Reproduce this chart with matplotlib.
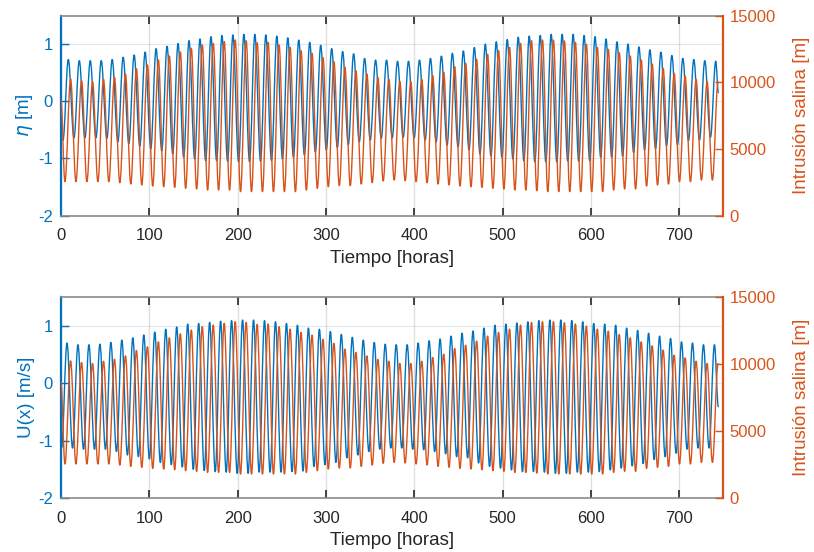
import numpy as np
import matplotlib
matplotlib.use("Agg")
import matplotlib.pyplot as plt
from matplotlib.path import Path
from matplotlib.patches import PathPatch

plt.rcParams['font.family'] = ['Liberation Sans', 'DejaVu Sans']
plt.rcParams['mathtext.fontset'] = 'dejavusans'
plt.rcParams['axes.unicode_minus'] = False

BLUE = "#0072BD"
ORANGE = "#D95319"

# tidal period (hours) and number of cycles in the record
period = 12.42
ncyc = 60
t_end = 744.0

# --- eta [m]: crest and trough of every cycle
eta_start = -0.65
eta_end = 0.15
eta_high = [0.73, 0.71, 0.71, 0.71, 0.73, 0.77, 0.81, 0.86, 0.92, 0.96,
            1.01, 1.06, 1.09, 1.13, 1.15,
            1.16, 1.17, 1.17, 1.16, 1.14, 1.11, 1.07, 1.03, 0.98, 0.92,
            0.87, 0.83, 0.75, 0.72, 0.72, 0.70,
            0.70, 0.72, 0.75, 0.79, 0.84, 0.88, 0.94, 1.00, 1.04, 1.08,
            1.12, 1.14, 1.15, 1.17, 1.17,
            1.17, 1.15, 1.13, 1.09, 1.04, 1.00, 0.95, 0.90, 0.86, 0.80,
            0.75, 0.73, 0.71, 0.70]
eta_low = [-0.68, -0.64, -0.64, -0.64, -0.65, -0.71, -0.74, -0.79, -0.83, -0.87,
           -0.92, -0.98, -1.01, -1.04, -1.04, -1.05,
           -1.06, -1.06, -1.05, -1.04, -1.01, -0.98, -0.94, -0.89, -0.85, -0.81,
           -0.76, -0.71, -0.68, -0.65, -0.64,
           -0.63, -0.64, -0.68, -0.71, -0.77, -0.80, -0.85, -0.92, -0.96, -0.98,
           -1.01, -1.04, -1.06, -1.06, -1.06,
           -1.05, -1.05, -1.04, -0.98, -0.98, -0.96, -0.90, -0.85, -0.83, -0.78,
           -0.76, -0.69, -0.68, -0.63]
eta_low_t0, eta_high_t0 = 2.3, 8.3

# --- U(x) [m/s]: crest and trough of every cycle
u_start = -1.0
u_end = -0.41
u_high = [0.70, 0.67, 0.67, 0.68, 0.71, 0.75, 0.79, 0.84, 0.89, 0.94,
          0.98, 1.03, 1.04, 1.06, 1.08,
          1.09, 1.10, 1.10, 1.09, 1.07, 1.04, 1.01, 0.96, 0.94, 0.90,
          0.85, 0.80, 0.75, 0.71, 0.68, 0.67,
          0.67, 0.70, 0.74, 0.77, 0.82, 0.87, 0.91, 0.96, 1.01, 1.03,
          1.05, 1.07, 1.09, 1.10, 1.10,
          1.09, 1.07, 1.04, 1.03, 1.01, 0.96, 0.92, 0.87, 0.82, 0.78,
          0.72, 0.70, 0.67, 0.67]
u_low = [-1.12, -1.13, -1.15, -1.15, -1.15, -1.19, -1.25, -1.28, -1.32, -1.38,
         -1.42, -1.46, -1.50, -1.52, -1.54, -1.55,
         -1.57, -1.57, -1.55, -1.55, -1.55, -1.54, -1.53, -1.45, -1.42, -1.38,
         -1.30, -1.25, -1.19, -1.15, -1.13,
         -1.13, -1.15, -1.16, -1.19, -1.23, -1.28, -1.30, -1.39, -1.45, -1.48,
         -1.51, -1.54, -1.54, -1.55, -1.57, -1.57,
         -1.55, -1.55, -1.54, -1.51, -1.48, -1.44, -1.40, -1.33, -1.28, -1.22,
         -1.15, -1.13, -1.13]
u_low_t0, u_high_t0 = 0.7, 6.8

# --- intrusion length [m]: crest and trough of every cycle (same in both panels)
sal_start = 8660
sal_high = [10240, 10110, 10040, 10210, 10360, 10610, 11010, 11290, 11660, 11960,
            12260, 12540, 12790, 12910, 13040,
            13160, 13110, 12960, 12990, 12790, 12610, 12360, 12160, 11840, 11540,
            11110, 10860, 10610, 10340, 10210, 10040,
            10040, 10210, 10490, 10740, 11160, 11410, 11710, 12090, 12360, 12610,
            12910, 13110, 13160, 13160, 13090,
            12990, 12840, 12610, 12460, 12210, 11960, 11660, 11360, 11040, 10660,
            10460, 10210, 10040, 10040]
sal_low = [2540, 2540, 2540, 2540, 2540, 2460, 2360, 2290, 2210, 2160,
           2110, 2040, 1990, 1910, 1910,
           1910, 1790, 1790, 1790, 1790, 1790, 1790, 1910, 2040, 2160,
           2240, 2240, 2360, 2460, 2590, 2660,
           2610, 2540, 2460, 2360, 2290, 2210, 2160, 2110, 2040, 1990,
           1910, 1910, 1860, 1790, 1790,
           1790, 1790, 1790, 1790, 1910, 1990, 1990, 2210, 2290, 2360,
           2540, 2540, 2660, 2660]
sal_low_t0, sal_high_t0 = 4.5, 10.9

xticks = [0, 100, 200, 300, 400, 500, 600, 700]
left_ticks = [-2, -1, 0, 1]
right_ticks = [0, 5000, 10000, 15000]


def extremes_series(lows, highs, t_low0, t_high0, start, end=None):
    k = np.arange(ncyc)
    t_lo = t_low0 + period * k[:len(lows)]
    t_hi = t_high0 + period * k[:len(highs)]
    t = np.concatenate([[0.0], t_lo, t_hi])
    v = np.concatenate([[start], lows, highs])
    if end is not None:
        t = np.append(t, t_end)
        v = np.append(v, end)
    order = np.argsort(t)
    return t[order], v[order]


def wave_patch(t, v, color):
    # smooth curve through the extremes: cubic segments with flat tangents
    verts = [(t[0], v[0])]
    codes = [Path.MOVETO]
    for i in range(1, len(t)):
        dt = t[i] - t[i - 1]
        verts += [(t[i - 1] + 0.3634 * dt, v[i - 1]),
                  (t[i] - 0.3634 * dt, v[i]),
                  (t[i], v[i])]
        codes += [Path.CURVE4] * 3
    return PathPatch(Path(verts, codes), facecolor="none", edgecolor=color,
                     lw=1.0, joinstyle="round", capstyle="round")


def style_axes(ax, ax2, ylabel):
    ax.set_xlim(0, 749)
    ax.set_ylim(-2, 1.5)
    ax2.set_ylim(0, 15000)
    ax.set_xticks(xticks)
    ax.set_yticks(left_ticks)
    ax2.set_yticks(right_ticks)
    ax.tick_params(axis="x", direction="in", length=6, width=1.2, colors="#262626",
                   labelsize=12, top=True, pad=9)
    ax.tick_params(axis="y", direction="in", length=6, width=1, colors=BLUE,
                   labelsize=12, pad=6)
    ax2.tick_params(axis="y", direction="in", length=6, width=1, colors=ORANGE,
                    labelsize=12, pad=5)
    ax.grid(True, axis="x", color="#262626", alpha=0.15, lw=1.0)
    ax.grid(True, axis="y", color=BLUE, alpha=0.15, lw=0.8)
    ax.set_axisbelow(True)
    for side in ["top", "bottom"]:
        ax.spines[side].set_color("#8a8a8a")
        ax.spines[side].set_linewidth(1.2)
        ax2.spines[side].set_visible(False)
    ax.spines["left"].set_color(BLUE)
    ax.spines["left"].set_linewidth(1.6)
    ax.spines["right"].set_visible(False)
    ax2.spines["left"].set_visible(False)
    ax2.spines["right"].set_color(ORANGE)
    ax2.spines["right"].set_linewidth(1.6)
    ax.set_xlabel("Tiempo [horas]", fontsize=13.5, color="#262626", labelpad=5)
    ax.set_ylabel(ylabel, fontsize=13.5, color=BLUE, labelpad=2)
    ax2.set_ylabel("Intrusión salina [m]", fontsize=13.5, color=ORANGE, labelpad=12)


fig = plt.figure(figsize=(8.14, 5.52), dpi=100)
fig.patch.set_facecolor("white")

ax_top = fig.add_axes([0.0749, 0.6096, 0.813, 0.3623])
ax_top2 = ax_top.twinx()
ax_bot = fig.add_axes([0.0749, 0.0978, 0.813, 0.364])
ax_bot2 = ax_bot.twinx()

t_eta, v_eta = extremes_series(eta_low, eta_high, eta_low_t0, eta_high_t0, eta_start, eta_end)
t_u, v_u = extremes_series(u_low, u_high, u_low_t0, u_high_t0, u_start, u_end)
t_s, v_s = extremes_series(sal_low, sal_high, sal_low_t0, sal_high_t0, sal_start)

ax_top.add_patch(wave_patch(t_eta, v_eta, BLUE))
ax_top2.add_patch(wave_patch(t_s, v_s, ORANGE))
style_axes(ax_top, ax_top2, r"$\eta$ [m]")

ax_bot.add_patch(wave_patch(t_u, v_u, BLUE))
ax_bot2.add_patch(wave_patch(t_s, v_s, ORANGE))
style_axes(ax_bot, ax_bot2, "U(x) [m/s]")

fig.savefig("out.png", dpi=100, facecolor="white")
